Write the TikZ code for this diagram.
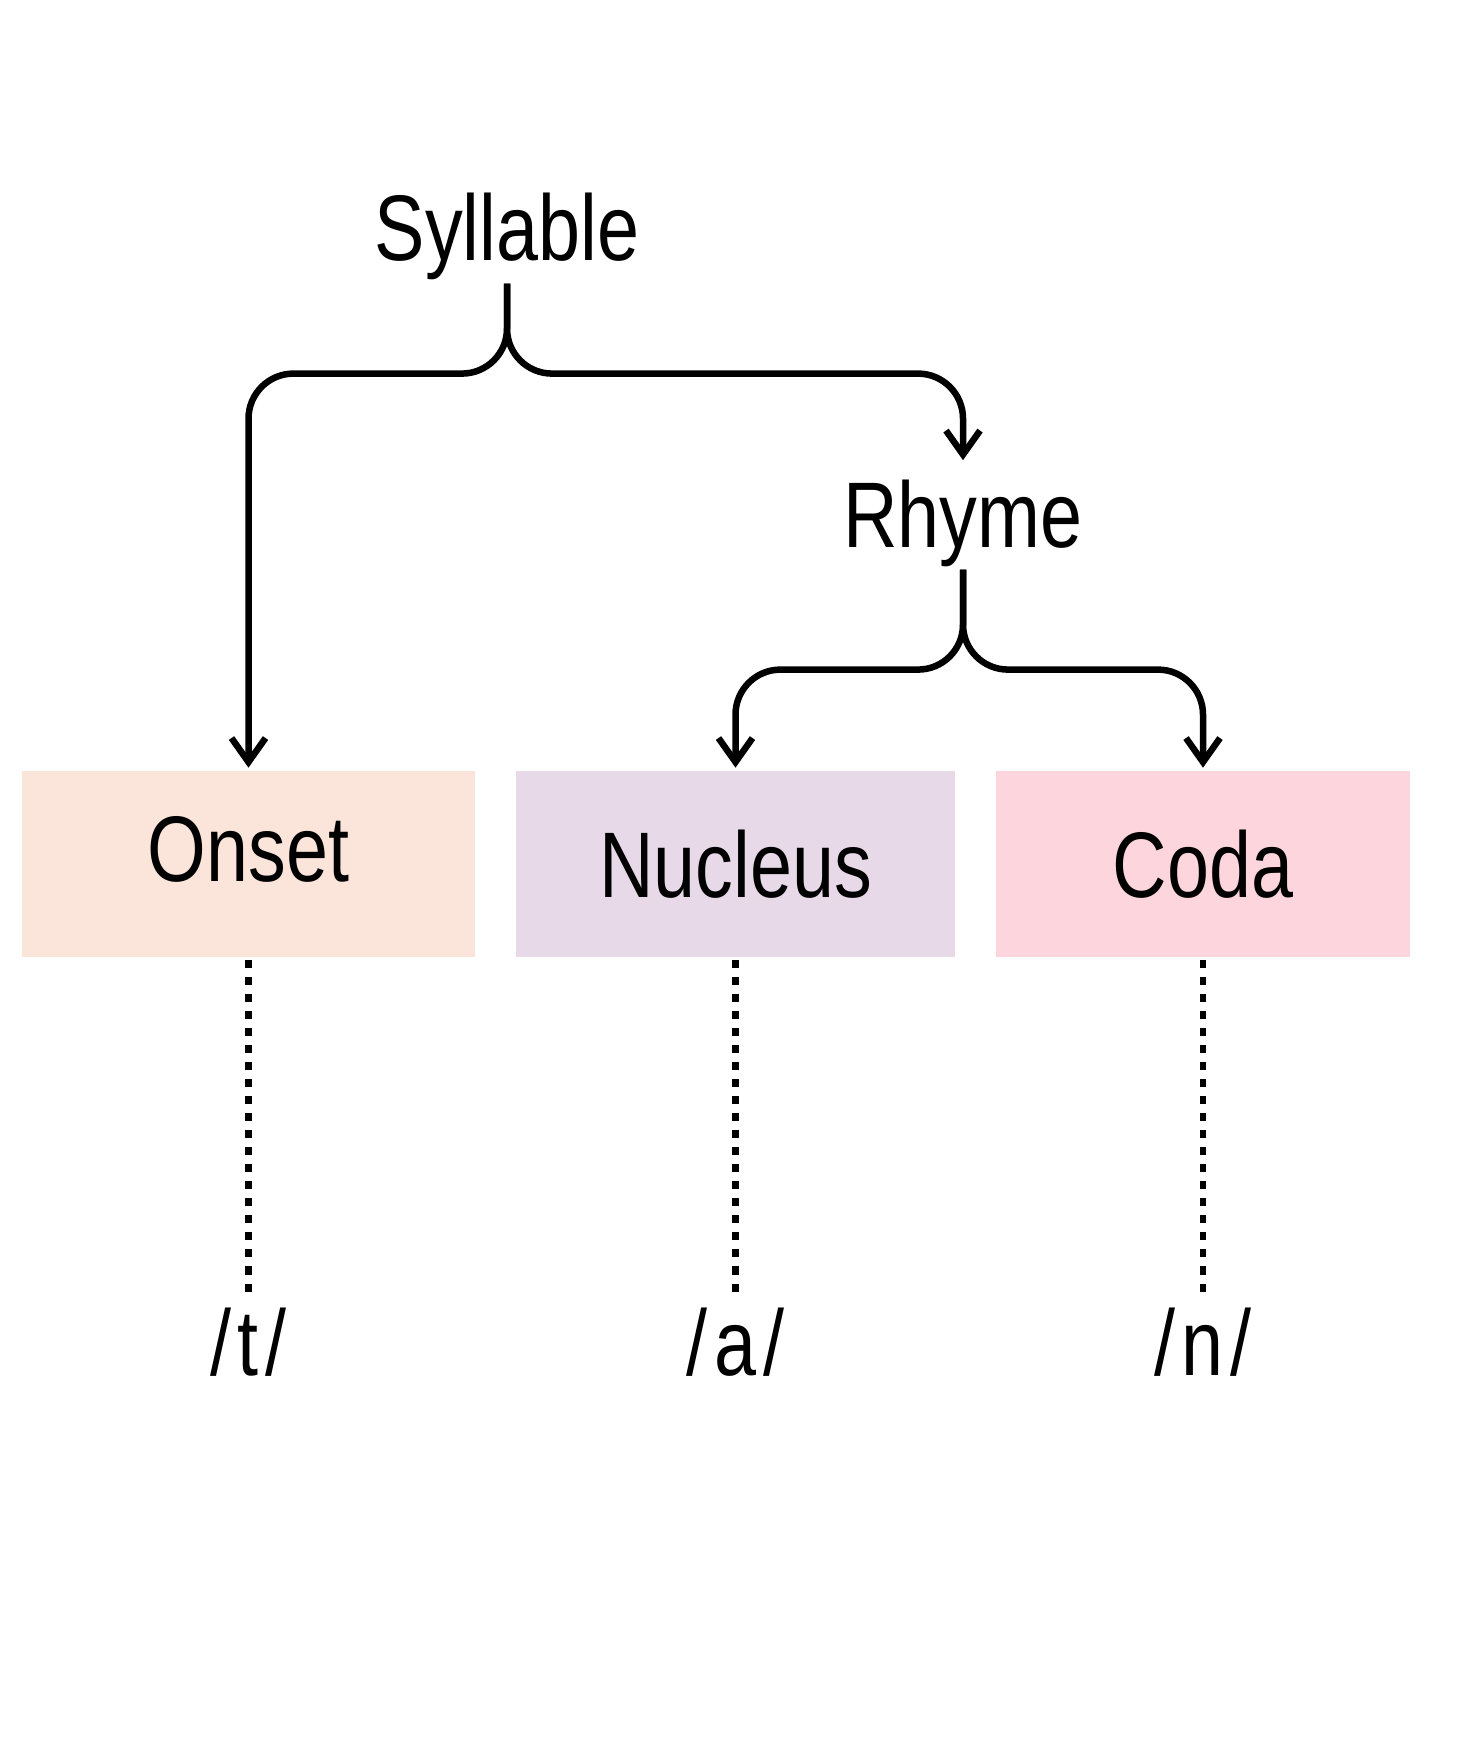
\documentclass[tikz,border=0pt]{standalone}
\usepackage{fontspec}
\setmainfont{Liberation Sans}[FakeStretch=0.81]
\usetikzlibrary{arrows.meta}
\definecolor{onsetfill}{HTML}{FBE5DA}
\definecolor{nucleusfill}{HTML}{E8D9E8}
\definecolor{codafill}{HTML}{FDD6DD}
\newcommand{\phon}[1]{/\kern0.7mm#1\kern0.7mm/}

\begin{document}
\begin{tikzpicture}[x=0.01cm,y=-0.01cm,font=\fontsize{26.5}{30}\selectfont,line width=1.85pt,
  branch/.style={rounded corners=4.5mm,-{Straight Barb[length=2.4mm,width=3.4mm]}},
  part/.style={minimum height=18.6mm,inner sep=0pt,text height=6.6mm,text depth=0pt},
  link/.style={dash pattern=on 0.8mm off 0.9mm,line width=1.9pt}]
  \useasboundingbox (0,0) rectangle (1472,1755);
  \node[anchor=base,inner sep=0pt] (syl) at (507,261) {Syllable};
  \node[anchor=base,inner sep=0pt] (rhyme) at (963,547) {Rhyme};
  \node[part,fill=onsetfill,minimum width=45.3mm,text depth=3.2mm] (onset) at (248.5,864) {Onset};
  \node[part,fill=nucleusfill,minimum width=43.9mm] (nucleus) at (735.5,864) {Nucleus};
  \node[part,fill=codafill,minimum width=41.4mm] (coda) at (1203,864) {Coda};
  \node[anchor=base,inner sep=0pt] (t) at (248.5,1375) {\phon{t}};
  \node[anchor=base,inner sep=0pt] (a) at (735.5,1375) {\phon{a}};
  \node[anchor=base,inner sep=0pt] (n) at (1203,1375) {\phon{n}};

  \draw[branch] (syl.south) -- ++(0,90) -| (onset.north);
  \draw[branch,shorten >=1.6mm] (syl.south) -- ++(0,90) -| (rhyme.north);
  \draw[branch] (rhyme.south) -- ++(0,100) -| (nucleus.north);
  \draw[branch] (rhyme.south) -- ++(0,100) -| (coda.north);
  \draw[link,shorten >=1.1mm] (onset.south) -- (t.north);
  \draw[link,shorten >=1.1mm] (nucleus.south) -- (a.north);
  \draw[link,shorten >=1.1mm] (coda.south) -- (n.north);
\end{tikzpicture}
\end{document}
